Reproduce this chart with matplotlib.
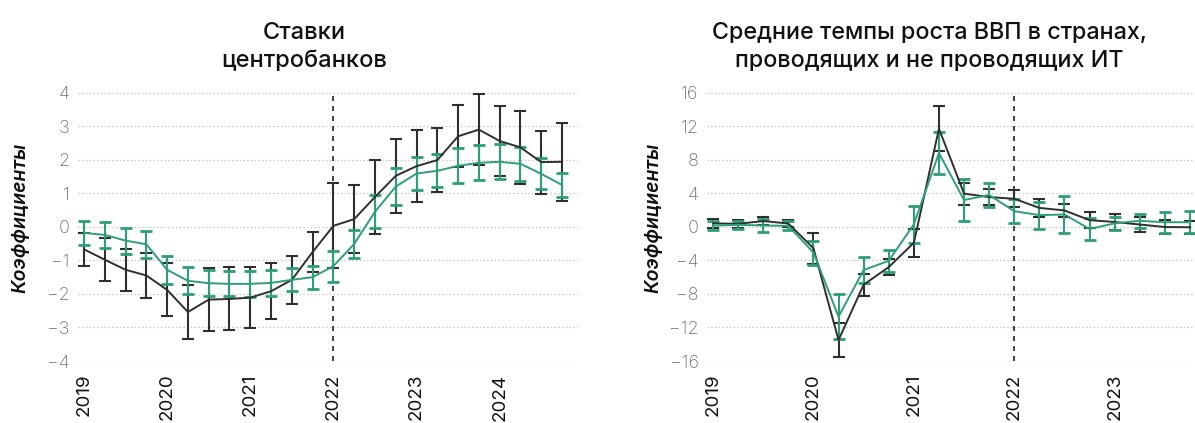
import numpy as np
import matplotlib
matplotlib.use("Agg")
import matplotlib.pyplot as plt

plt.rcParams['font.family'] = ['Inter', 'DejaVu Sans']

# ---------- data ----------
years_left = ["2019", "2020", "2021", "2022", "2023", "2024"]
years_right = ["2019", "2020", "2021", "2022", "2023"]

# Left chart: 2019Q1 .. 2024Q4
rates_black = [-0.67, -0.98, -1.28, -1.45, -1.88, -2.54, -2.17, -2.15, -2.11, -1.92, -1.58, -0.75,
               0.03, 0.23, 0.89, 1.52, 1.81, 1.99, 2.70, 2.90, 2.56, 2.37, 1.93, 1.94]
rates_black_err = [0.50, 0.64, 0.63, 0.67, 0.79, 0.80, 0.95, 0.94, 0.91, 0.83, 0.71, 0.60,
                   1.27, 1.02, 1.10, 1.10, 1.07, 0.96, 0.93, 1.05, 1.05, 1.08, 0.94, 1.17]
rates_green = [-0.18, -0.24, -0.41, -0.52, -1.28, -1.61, -1.68, -1.70, -1.70, -1.67, -1.58, -1.50,
               -1.17, -0.51, 0.45, 1.20, 1.59, 1.67, 1.82, 1.91, 1.94, 1.88, 1.58, 1.25]
rates_green_err = [0.36, 0.39, 0.39, 0.41, 0.42, 0.40, 0.39, 0.37, 0.39, 0.38, 0.34, 0.34,
                   0.46, 0.43, 0.49, 0.54, 0.50, 0.49, 0.52, 0.52, 0.52, 0.51, 0.46, 0.37]

# Right chart: 2019Q1 .. 2023Q4
gdp_black = [0.42, 0.36, 0.69, 0.40, -2.55, -13.5, -6.9, -4.8, -1.9, 11.7, 3.96, 3.55,
             3.35, 2.26, 1.96, 0.80, 0.58, 0.28, -0.02, -0.05]
gdp_black_err = [0.50, 0.50, 0.50, 0.40, 1.83, 2.0, 1.3, 1.0, 1.7, 2.7, 1.3, 1.0,
                 1.0, 1.1, 0.8, 0.95, 0.9, 0.88, 0.78, 0.78]
gdp_green = [0.15, 0.24, 0.16, 0.12, -3.07, -10.7, -5.15, -4.05, 0.3, 8.8, 3.2, 3.8,
             1.87, 1.4, 1.47, -0.26, 0.42, 0.72, 0.55, 0.55]
gdp_green_err = [0.56, 0.50, 0.73, 0.55, 1.43, 2.7, 1.55, 1.3, 2.2, 2.55, 2.5, 1.43,
                 1.4, 1.6, 2.2, 1.35, 0.8, 0.86, 1.25, 1.3]

title_left = "Ставки\nцентробанков"
title_right = "Средние темпы роста ВВП в странах,\nпроводящих и не проводящих ИТ"
ylabel = "Коэффициенты"

BLACK = "#2f2f2f"
GREEN = "#2e9e78"

W, H = 1195, 423
fig = plt.figure(figsize=(W / 100, H / 100), dpi=100)

def px_axes(x0, x1, y_top, y_bot):
    return fig.add_axes([x0 / W, 1 - y_bot / H, (x1 - x0) / W, (y_bot - y_top) / H])

ax1 = px_axes(78, 578, 92.7, 361)
ax2 = px_axes(707, 1195, 92.7, 361)

def style(ax, data_sets, years, ylim, yticks, xlim):
    n = len(data_sets[0][0])
    x = np.arange(n)
    for vals, errs, color, capth in data_sets:
        ax.errorbar(x, vals, yerr=errs, color=color, lw=1.4, elinewidth=1.5,
                    capsize=4, capthick=capth, zorder=3)
    ax.axvline(12, color="#222222", ls=(0, (3, 3)), lw=1.2, zorder=2)
    ax.set_ylim(*ylim)
    ax.set_xlim(*xlim)
    ax.set_yticks(yticks)
    ax.set_yticklabels([("−" + str(abs(t))) if t < 0 else str(t) for t in yticks],
                       color="#707070", fontsize=13, fontweight="light")
    ax.set_xticks(np.arange(len(years)) * 4)
    ax.set_xticklabels(years, rotation=90, fontsize=13.5, color="#111111")
    ax.tick_params(axis="both", length=0)
    ax.tick_params(axis="y", pad=6)
    ax.tick_params(axis="x", pad=9)
    for s in ax.spines.values():
        s.set_visible(False)
    ax.grid(axis="y", color="#bdbdbd", ls=(0, (1, 2)), lw=0.9, zorder=0)
    ax.set_axisbelow(True)

style(ax1, [(rates_black, rates_black_err, BLACK, 1.5),
            (rates_green, rates_green_err, GREEN, 2.0)],
      years_left, (-4, 4), [-4, -3, -2, -1, 0, 1, 2, 3, 4], (-0.29, 23.77))
style(ax2, [(gdp_black, gdp_black_err, BLACK, 1.5),
            (gdp_green, gdp_green_err, GREEN, 2.0)],
      years_right, (-16, 16), [-16, -12, -8, -4, 0, 4, 8, 12, 16], (-0.24, 19.2))

for xc in (20, 653):
    fig.text(xc / W, 1 - 218 / H, ylabel, rotation=90, ha="center", va="center",
             fontsize=14, style="italic", fontweight="semibold", color="#111111")

fig.text(304 / W, 1 - 47 / H, title_left, ha="center", va="center", fontsize=17,
         color="#111111", linespacing=1.3, fontweight="medium")
fig.text(929 / W, 1 - 47 / H, title_right, ha="center", va="center", fontsize=16.8,
         color="#111111", linespacing=1.3, fontweight="medium")

fig.savefig("out.png", dpi=100)
